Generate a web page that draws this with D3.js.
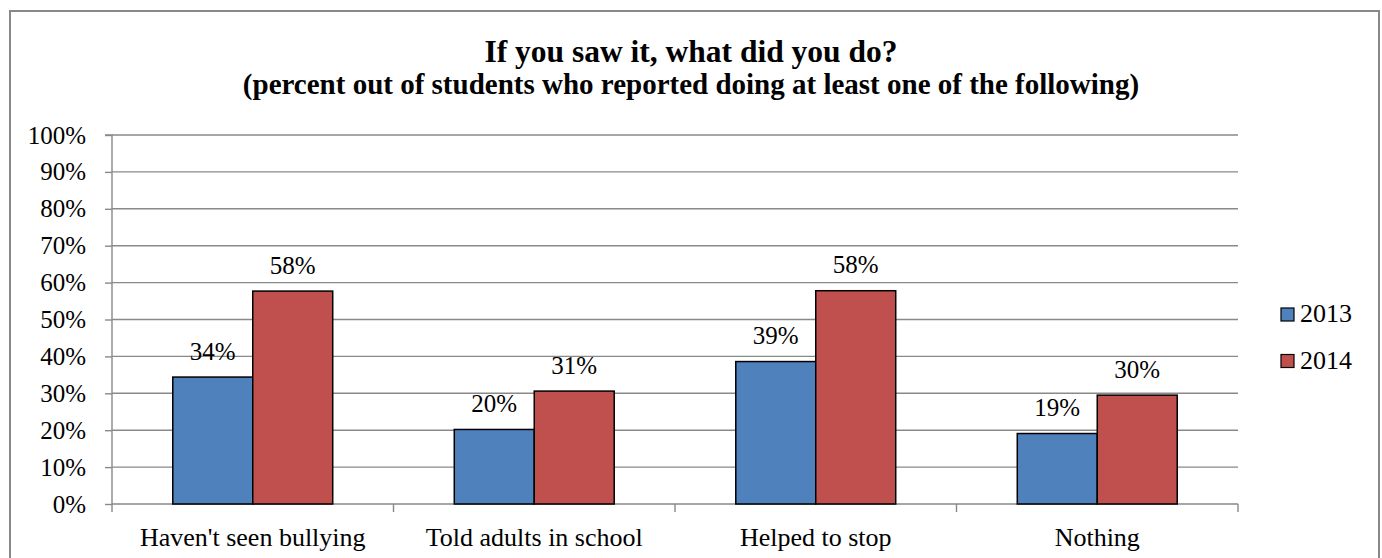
<!DOCTYPE html>
<html>
<head>
<meta charset="utf-8">
<script src="https://cdn.jsdelivr.net/npm/d3@7/dist/d3.min.js"></script>
<style>
  html, body { margin: 0; padding: 0; background: #fff; }
  svg { display: block; }
  text { font-family: "Liberation Serif", "Times New Roman", serif; fill: #000; }
</style>
</head>
<body>
<svg id="chart" width="1382" height="558"></svg>
<script>
// Survey responses, in percent
const categories = ["Haven't seen bullying", "Told adults in school", "Helped to stop", "Nothing"];
const seriesNames = ["2013", "2014"];
const values2013 = [34.4, 20.2, 38.6, 19.1];
const values2014 = [57.7, 30.6, 57.8, 29.5];
const yTicks = [0, 10, 20, 30, 40, 50, 60, 70, 80, 90, 100];
const titleLines = ["If you saw it, what did you do?",
                    "(percent out of students who reported doing at least one of the following)"];

const colors = ["#4F81BD", "#C0504D"];
const gridColor = "#898989";

const svg = d3.select("#chart");
const W = 1382, H = 558;

// outer chart frame
svg.append("rect")
  .attr("x", 10).attr("y", 11)
  .attr("width", 1369).attr("height", 560)
  .attr("fill", "#fff").attr("stroke", gridColor).attr("stroke-width", 2);

// title: main line plus a slightly smaller subtitle line
const titleSizes = [31.5, 29];
const titleBaselines = [61.5, 94];
svg.append("g").selectAll("text").data(titleLines).join("text")
  .attr("x", W / 2)
  .attr("y", (d, i) => titleBaselines[i])
  .attr("text-anchor", "middle")
  .attr("font-weight", "bold")
  .attr("font-size", (d, i) => titleSizes[i])
  .text(d => d);

const plot = { left: 112, right: 1238, top: 135, bottom: 504 };

const y = d3.scaleLinear().domain([0, 100]).range([plot.bottom, plot.top]);
const x0 = d3.scaleBand().domain(categories).range([plot.left, plot.right]).padding(0);
const gapRatio = 0.76;
const groupW = x0.bandwidth() / (1 + gapRatio);
const x1 = d3.scaleBand().domain(seriesNames).range([0, groupW]).padding(0);
const groupOffset = (x0.bandwidth() - groupW) / 2;

// horizontal gridlines
svg.append("g").selectAll("line").data(yTicks.filter(t => t > 0)).join("line")
  .attr("x1", plot.left).attr("x2", plot.right)
  .attr("y1", d => y(d)).attr("y2", d => y(d))
  .attr("stroke", gridColor).attr("stroke-width", 1.4);

// y axis
const yAxis = d3.axisLeft(y).tickValues(yTicks).tickFormat(d => d + "%").tickSize(7).tickPadding(19);
const gy = svg.append("g").attr("transform", `translate(${plot.left},0)`).call(yAxis);
gy.select(".domain").attr("stroke", gridColor).attr("stroke-width", 1.4)
  .attr("d", `M-7,${plot.top}H0V${plot.bottom}`);
gy.selectAll(".tick line").attr("stroke", gridColor).attr("stroke-width", 1.4);
gy.selectAll(".tick text")
  .attr("font-size", 25).attr("fill", "#000");

// category axis
const xAxis = d3.axisBottom(x0).tickSize(0).tickPadding(24);
const gx = svg.append("g").attr("transform", `translate(0,${plot.bottom})`).call(xAxis);
gx.select(".domain").attr("stroke", gridColor).attr("stroke-width", 1.4)
  .attr("d", `M${plot.left},0H${plot.right}`);
gx.selectAll(".tick text")
  .attr("font-size", 26).attr("fill", "#000");
// boundary ticks between categories
const boundaries = categories.map(c => x0(c)).concat([plot.right]);
gx.append("g").selectAll("line").data(boundaries).join("line")
  .attr("x1", d => d).attr("x2", d => d)
  .attr("y1", 0).attr("y2", 8)
  .attr("stroke", gridColor).attr("stroke-width", 1.4);

// bars
const rows = categories.map((c, i) => ({
  category: c,
  items: [
    { series: seriesNames[0], value: values2013[i], color: colors[0] },
    { series: seriesNames[1], value: values2014[i], color: colors[1] }
  ]
}));

const groups = svg.append("g").selectAll("g").data(rows).join("g")
  .attr("transform", d => `translate(${x0(d.category) + groupOffset},0)`);

groups.selectAll("rect").data(d => d.items).join("rect")
  .attr("x", d => x1(d.series))
  .attr("y", d => y(d.value))
  .attr("width", x1.bandwidth())
  .attr("height", d => y(0) - y(d.value))
  .attr("fill", d => d.color)
  .attr("stroke", "#000").attr("stroke-width", 1.5);

groups.selectAll("text").data(d => d.items).join("text")
  .attr("x", d => x1(d.series) + x1.bandwidth() / 2)
  .attr("y", d => y(d.value) - 17.5)
  .attr("text-anchor", "middle")
  .attr("font-size", 25)
  .text(d => Math.round(d.value) + "%");

// legend
const legend = svg.append("g").selectAll("g").data(seriesNames).join("g")
  .attr("transform", (d, i) => `translate(1281,${308 + i * 46.5})`);
legend.append("rect")
  .attr("width", 13).attr("height", 13)
  .attr("fill", (d, i) => colors[i])
  .attr("stroke", "#000").attr("stroke-width", 1.2);
legend.append("text")
  .attr("x", 19).attr("y", 14)
  .attr("font-size", 26)
  .text(d => d);
</script>
</body>
</html>
